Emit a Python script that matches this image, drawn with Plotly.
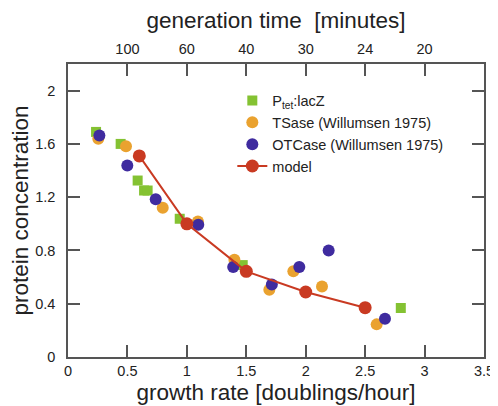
import plotly.graph_objects as go

# ---- data ----
ptet_x = [0.236, 0.443, 0.586, 0.64, 0.67, 0.94, 1.47, 2.80]
ptet_y = [1.69, 1.60, 1.325, 1.25, 1.25, 1.038, 0.69, 0.368]

tsase_x = [0.255, 0.488, 0.797, 1.093, 1.40, 1.694, 1.896, 2.137, 2.597]
tsase_y = [1.638, 1.583, 1.12, 1.018, 0.73, 0.505, 0.643, 0.53, 0.245]

otcase_x = [0.264, 0.499, 0.738, 1.096, 1.39, 1.715, 1.946, 2.193, 2.667]
otcase_y = [1.663, 1.438, 1.185, 0.993, 0.675, 0.545, 0.675, 0.80, 0.288]

model_x = [0.6, 1.0, 1.5, 2.0, 2.5]
model_y = [1.51, 1.0, 0.643, 0.488, 0.37]

bottom_ticks = [0, 0.5, 1, 1.5, 2, 2.5, 3, 3.5]
bottom_labels = ["0", "0.5", "1", "1.5", "2", "2.5", "3", "3.5"]
top_ticks = [0.5, 1, 1.5, 2, 2.5, 3]
top_labels = ["100", "60", "40", "30", "24", "20"]
y_ticks = [0, 0.4, 0.8, 1.2, 1.6, 2]
y_labels = ["0", "0.4", "0.8", "1.2", "1.6", "2"]

GREEN = "#84c232"
ORANGE = "#eaa22f"
PURPLE = "#3f2b9f"
RED = "#c93a22"
AXC = "#555555"
FONT = "Liberation Sans, Arial, Helvetica, sans-serif"

fig = go.Figure()
fig.add_trace(go.Scatter(x=ptet_x, y=ptet_y, mode="markers", name="P<sub>tet</sub>:lacZ",
                         marker=dict(symbol="square", size=10, color=GREEN)))
fig.add_trace(go.Scatter(x=tsase_x, y=tsase_y, mode="markers", name="TSase (Willumsen 1975)",
                         marker=dict(symbol="circle", size=12, color=ORANGE)))
fig.add_trace(go.Scatter(x=otcase_x, y=otcase_y, mode="markers", name="OTCase (Willumsen 1975)",
                         marker=dict(symbol="circle", size=12, color=PURPLE)))
fig.add_trace(go.Scatter(x=model_x, y=model_y, mode="lines+markers", name="model",
                         line=dict(color=RED, width=2),
                         marker=dict(symbol="circle", size=13, color=RED)))
# invisible trace to activate top axis
fig.add_trace(go.Scatter(x=[None], y=[None], xaxis="x2", showlegend=False, hoverinfo="skip"))

# page body has an 8px margin, so the figure is sized/offset to compensate
fig.update_layout(
    width=490, height=398,
    margin=dict(l=60, r=14, t=56, b=49),
    paper_bgcolor="white", plot_bgcolor="white",
    font=dict(family=FONT, color="#222222", size=14),
    showlegend=True,
    legend=dict(x=0.395, y=0.93, xanchor="left", yanchor="top",
                bgcolor="rgba(0,0,0,0)", font=dict(size=14.5, family=FONT),
                tracegroupgap=0, itemwidth=30),
    xaxis=dict(range=[0, 3.5], tickvals=bottom_ticks, ticktext=bottom_labels,
               ticks="inside", ticklen=12, tickwidth=1.5, tickcolor=AXC,
               showline=True, linecolor=AXC, linewidth=1.5, mirror=True,
               showgrid=False, zeroline=False, automargin=False,
               tickfont=dict(size=14.5),
               title=dict(text="growth rate [doublings/hour]", font=dict(size=22.5), standoff=6)),
    xaxis2=dict(range=[0, 3.5], overlaying="x", side="top", anchor="y",
                tickvals=top_ticks, ticktext=top_labels,
                ticks="inside", ticklen=12, tickwidth=1.5, tickcolor=AXC,
                showline=False, showgrid=False, zeroline=False, automargin=False,
                tickfont=dict(size=14.5), ticklabelstandoff=6,
                title=dict(text="generation time\u00a0\u00a0[minutes]", font=dict(size=22.5), standoff=8)),
    yaxis=dict(range=[0, 2.2], tickvals=y_ticks, ticktext=y_labels,
               ticks="inside", ticklen=12, tickwidth=1.5, tickcolor=AXC,
               showline=True, linecolor=AXC, linewidth=1.5, mirror="ticks",
               showgrid=False, zeroline=False, automargin=False,
               tickfont=dict(size=14.5), ticklabelstandoff=8,
               title=dict(text="protein concentration", font=dict(size=22.5), standoff=2)),
)

fig.write_html("out.html")
